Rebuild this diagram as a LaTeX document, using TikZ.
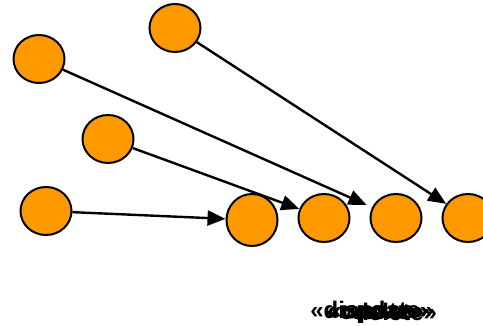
\documentclass[tikz,border=0pt]{standalone}
\usepackage{fontspec}
\setmainfont{Liberation Sans}
\usetikzlibrary{positioning}
\usetikzlibrary{shapes.geometric}
\usetikzlibrary{arrows.meta}

\definecolor{objorange}{HTML}{FF9900}

\begin{document}
\begin{tikzpicture}[x=1pt,y=-1pt,
    obj/.style={ellipse,draw=black,line width=2pt,fill=objorange,inner sep=0pt,minimum width=51pt,minimum height=48pt},
    msg/.style={line width=2.4pt,-{Triangle[length=18pt,width=15pt]}},
    stereo/.style={font=\bfseries\fontsize{24}{24}\selectfont,inner sep=0pt}]

        \useasboundingbox (0,0) rectangle (483,326);

        \node[obj] (a) at (175,28) {};
        \node[obj] (b) at (39,59) {};
        \node[obj] (c) at (108,139) {};
        \node[obj] (d) at (46,211) {};

        \node[obj,minimum height=52pt] (e) at (252,220) {};
        \node[obj] (f) at (324,218) {};
        \node[obj] (g) at (396,218) {};
        \node[obj] (h) at (468,218) {};

        \draw[msg] (d) -- (e);
        \draw[msg] (c) -- (f);
        \draw[msg,shorten >=6pt] (b) -- (g);
        \draw[msg] (a) -- (h);

        \node[stereo] (s1) at (369,312) {«dispose»};
        \node[stereo] (s2) at (375,312) {«create»};
        \node[stereo] (s3) at (381,312) {«update»};
        \node[stereo] (s4) at (389,312) {«delete»};

    \end{tikzpicture}
\end{document}
